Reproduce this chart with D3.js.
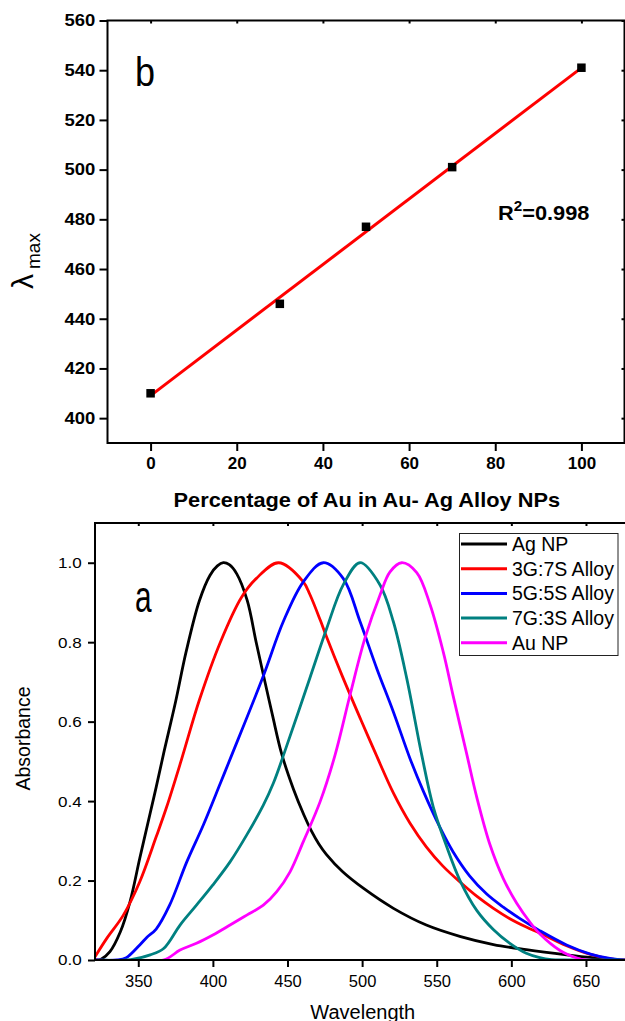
<!DOCTYPE html>
<html>
<head>
<meta charset="utf-8">
<script src="https://cdn.jsdelivr.net/npm/d3@7"></script>
<style>
body{margin:0;background:#fff;}
svg{display:block;font-family:"Liberation Sans",Arial,sans-serif;}
</style>
</head>
<body>
<div id="wrapper"></div>
<script>
// ---- panel b data
const pctAu = [0, 30, 50, 70, 100];
const lambdaMax = [410, 446, 477, 501, 541];
const fitLine = [[0, 409.05], [100, 540.95]];
const pctTicks = [0, 20, 40, 60, 80, 100];
const lambdaTicks = [400, 420, 440, 460, 480, 500, 520, 540, 560];

// ---- panel a data  [wavelength, absorbance]
const seriesNames = ["Ag NP", "3G:7S Alloy", "5G:5S Alloy", "7G:3S Alloy", "Au NP"];
const agNP = [[321,0],[325,0.002],[331,0.021],[338,0.071],[344.5,0.147],[351,0.256],[358,0.37],[362,0.435],[367,0.52],[375,0.65],[382,0.775],[391,0.905],[398,0.968],[403,0.992],[407,1.0],[411,0.995],[416,0.972],[423,0.905],[429,0.8],[434,0.715],[440,0.615],[446,0.52],[454,0.43],[461,0.365],[466,0.325],[471,0.292],[476,0.266],[487,0.222],[501,0.18],[521,0.13],[543,0.088],[566,0.059],[588,0.039],[610,0.026],[637,0.013],[659,0.004],[670,0],[680,0]];
const alloy37 = [[321,0.008],[329,0.055],[340,0.113],[351,0.197],[362,0.31],[369,0.385],[379,0.505],[391,0.655],[405,0.8],[419,0.912],[429,0.96],[444,1.0],[460.6,0.952],[465,0.92],[472,0.855],[476,0.815],[487,0.712],[499,0.606],[509,0.52],[521,0.42],[532,0.345],[543,0.285],[554,0.237],[566,0.195],[577,0.16],[588,0.13],[599,0.104],[610,0.083],[619,0.068],[637,0.036],[653,0.014],[666,0.003],[676,0],[680,0]];
const alloy55 = [[321,0],[336,0],[342,0.006],[351,0.038],[356,0.058],[362,0.078],[371,0.138],[382.5,0.247],[393.6,0.34],[405,0.445],[412,0.51],[433.8,0.715],[447.2,0.852],[460.6,0.952],[474,1.0],[487.4,0.96],[498.6,0.852],[509.8,0.734],[520.9,0.625],[532,0.508],[541,0.425],[552,0.335],[561,0.272],[572,0.212],[583.5,0.166],[594.6,0.133],[605.8,0.104],[619,0.074],[637,0.038],[653,0.015],[666,0.004],[676,0],[680,0]];
const alloy73 = [[321,0],[345,0.001],[358,0.013],[367,0.029],[378,0.088],[389,0.138],[400,0.189],[411.5,0.247],[422.7,0.315],[433.8,0.39],[440.5,0.445],[446.8,0.51],[465,0.71],[476.3,0.835],[487.4,0.945],[498.6,1.0],[512,0.944],[520.9,0.852],[529.9,0.709],[540,0.515],[547.7,0.385],[556.7,0.285],[565.6,0.2],[576.8,0.125],[587.9,0.077],[599,0.042],[610,0.017],[619,0.006],[627,0.001],[635,0],[680,0]];
const auNP = [[321,0],[366.8,0],[378,0.025],[389,0.042],[400,0.063],[411.5,0.088],[422.7,0.113],[433.8,0.138],[442.8,0.172],[451.7,0.222],[460.6,0.298],[471.8,0.398],[481.8,0.515],[491.9,0.667],[501.9,0.81],[512,0.919],[518.7,0.977],[526.5,1.0],[536.6,0.975],[545.5,0.895],[554.4,0.775],[561,0.665],[570,0.52],[576.8,0.41],[585.7,0.29],[594.6,0.205],[603.6,0.143],[612.5,0.095],[619,0.066],[632.6,0.024],[644,0.005],[650,0],[680,0]];
const wavelengthTicks = [350, 400, 450, 500, 550, 600, 650];
const absTicks = [0.0, 0.2, 0.4, 0.6, 0.8, 1.0];

const spectra = [agNP, alloy37, alloy55, alloy73, auNP];
const colors = ["#000000", "#ff0000", "#0000ff", "#008080", "#ff00ff"];

const width = 625, height = 1021;
const svg = d3.select("#wrapper").append("svg")
  .attr("width", width).attr("height", height);

// ================= panel b =================
const dimB = {left:107.5, right:624.5, top:20.5, bottom:443};
const xB = d3.scaleLinear().domain([-10, 110]).range([dimB.left, dimB.right]);
const yB = d3.scaleLinear().domain([390, 560]).range([dimB.bottom, dimB.top]);

const gB = svg.append("g");

const bx = gB.append("g").attr("transform", `translate(0,${dimB.bottom})`)
  .call(d3.axisBottom(xB).tickValues(pctTicks).tickSize(8).tickPadding(6));
bx.selectAll("text").attr("font-size", "17px").attr("font-weight", "bold").attr("fill", "#000");

const by = gB.append("g").attr("transform", `translate(${dimB.left},0)`)
  .call(d3.axisLeft(yB).tickValues(lambdaTicks).tickSize(8).tickPadding(3));
by.selectAll("text").attr("font-size", "16.5px").attr("font-weight", "bold").attr("fill", "#000")
  .attr("transform", "scale(1.12,1)");

gB.append("g").attr("transform", `translate(0,${dimB.top})`)
  .call(d3.axisBottom(xB).tickValues(pctTicks).tickSize(3).tickFormat(""));
gB.append("g").attr("transform", `translate(${dimB.right},0)`)
  .call(d3.axisLeft(yB).tickValues(lambdaTicks).tickSize(3).tickFormat(""));

gB.selectAll(".domain").remove();
gB.selectAll(".tick line").attr("stroke", "#000").attr("stroke-width", 2);

gB.append("rect")
  .attr("x", dimB.left).attr("y", dimB.top)
  .attr("width", dimB.right - dimB.left).attr("height", dimB.bottom - dimB.top)
  .attr("fill", "none").attr("stroke", "#000").attr("stroke-width", 2);

// fit line
gB.append("path").datum(fitLine)
  .attr("d", d3.line().x(d => xB(d[0])).y(d => yB(d[1])))
  .attr("fill", "none").attr("stroke", "#ff0000").attr("stroke-width", 3);

// points
const sq = 8.5;
gB.selectAll(".pt").data(pctAu).enter().append("rect")
  .attr("x", (d) => xB(d) - sq/2)
  .attr("y", (d, i) => yB(lambdaMax[i]) - sq/2)
  .attr("width", sq).attr("height", sq)
  .attr("fill", "#000");

gB.append("text").attr("transform", "translate(135,86) scale(0.9,1)")
  .attr("font-size", "40px").text("b");

const r2 = gB.append("text").attr("transform", "translate(498,220) scale(1.09,1)")
  .attr("font-size", "20px").attr("font-weight", "bold");
r2.append("tspan").text("R");
r2.append("tspan").attr("font-size", "14px").attr("dy", -9).text("2");
r2.append("tspan").attr("dy", 9).text("=0.998");

gB.append("text").attr("transform", "translate(366.8,507) scale(1.09,1)")
  .attr("text-anchor", "middle").attr("font-size", "20px").attr("font-weight", "bold")
  .text("Percentage of Au in Au- Ag Alloy NPs");

const lam = gB.append("text").attr("transform", "translate(33,289) rotate(-90)");
lam.append("tspan").attr("font-size", "30px").text("λ");
lam.append("tspan").attr("font-size", "19px").attr("dx", 5).attr("dy", 7).text("max");

// ================= panel a =================
const dimA = {left:95, top:523, bottom:960};
const xA = d3.scaleLinear().domain([321, 680]).range([dimA.left, dimA.left + 359 * 1.4923]);
const yA = d3.scaleLinear().domain([0, 1.1]).range([dimA.bottom, dimA.top]);
dimA.right = xA(680);

const gA = svg.append("g");

svg.append("defs").append("clipPath").attr("id", "clipA").append("rect")
  .attr("x", dimA.left).attr("y", dimA.top)
  .attr("width", dimA.right - dimA.left).attr("height", dimA.bottom - dimA.top);

const ax = gA.append("g").attr("transform", `translate(0,${dimA.bottom})`)
  .call(d3.axisBottom(xA).tickValues(wavelengthTicks).tickSize(7).tickPadding(8));
ax.selectAll("text").attr("font-size", "16.5px").attr("fill", "#000");

const ay = gA.append("g").attr("transform", `translate(${dimA.left},0)`)
  .call(d3.axisLeft(yA).tickValues(absTicks).tickSize(7).tickPadding(5).tickFormat(d3.format(".1f")));
ay.selectAll("text").attr("font-size", "15.5px").attr("fill", "#000")
  .attr("transform", "scale(1.1,1)");

gA.append("g").attr("transform", `translate(0,${dimA.top})`)
  .call(d3.axisBottom(xA).tickValues(wavelengthTicks).tickSize(3).tickFormat(""));

gA.selectAll(".domain").remove();
gA.selectAll(".tick line").attr("stroke", "#000").attr("stroke-width", 2);

const lineA = d3.line().x(d => xA(d[0])).y(d => yA(d[1])).curve(d3.curveCatmullRom.alpha(0.5));
gA.append("g").attr("clip-path", "url(#clipA)")
  .selectAll(".spec").data(spectra).enter().append("path")
  .attr("d", lineA)
  .attr("fill", "none")
  .attr("stroke", (d, i) => colors[i])
  .attr("stroke-width", 2.8);

gA.append("rect")
  .attr("x", dimA.left).attr("y", dimA.top)
  .attr("width", dimA.right - dimA.left).attr("height", dimA.bottom - dimA.top)
  .attr("fill", "none").attr("stroke", "#000").attr("stroke-width", 2);

gA.append("text").attr("transform", "translate(135,612) scale(0.71,1.05)")
  .attr("font-size", "42px").text("a");

// legend
const leg = gA.append("g");
leg.append("rect").attr("x", 459.5).attr("y", 533.5).attr("width", 158.5).attr("height", 122)
  .attr("fill", "#fff").attr("stroke", "#222").attr("stroke-width", 1);
const rows = leg.selectAll(".row").data(seriesNames).enter().append("g")
  .attr("transform", (d, i) => `translate(0,${544 + i * 24.7})`);
rows.append("line").attr("x1", 461).attr("x2", 507)
  .attr("stroke", (d, i) => colors[i]).attr("stroke-width", 3);
rows.append("text").attr("x", 512).attr("dy", "0.35em")
  .attr("font-size", "19.5px").text(d => d);

gA.append("text").attr("transform", "translate(30,738.5) rotate(-90)")
  .attr("text-anchor", "middle").attr("font-size", "19.5px").text("Absorbance");

gA.append("text").attr("x", 362.8).attr("y", 1019)
  .attr("text-anchor", "middle").attr("font-size", "20px").text("Wavelength");
</script>
</body>
</html>
